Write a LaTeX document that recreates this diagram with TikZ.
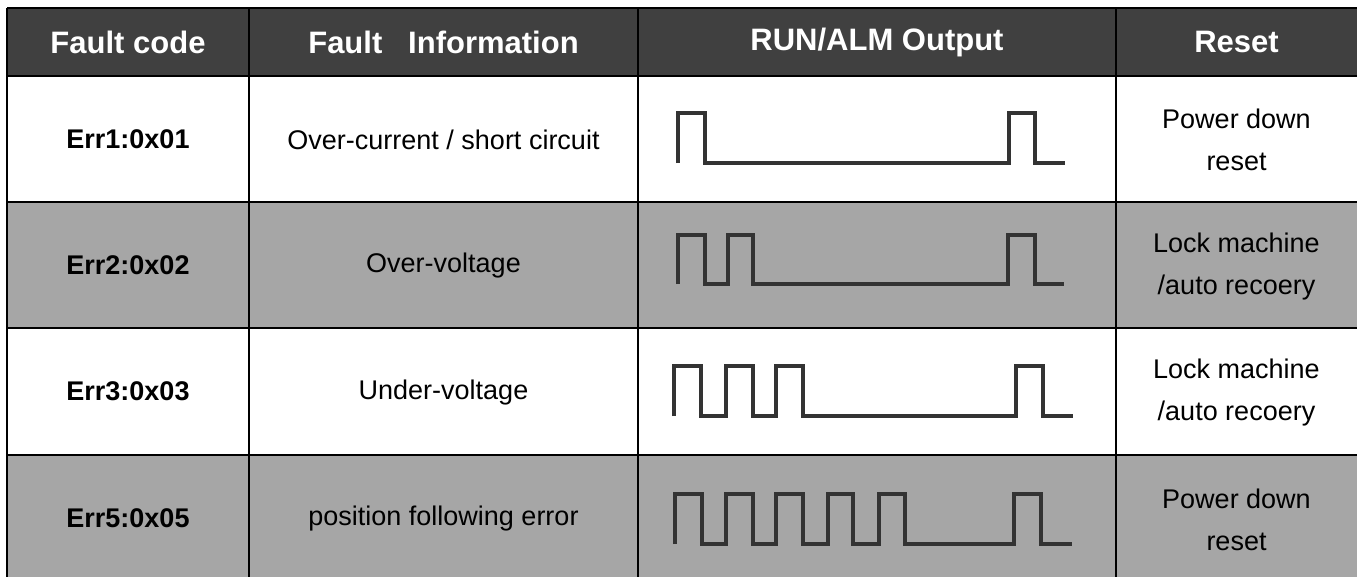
\documentclass[tikz,border=0pt]{standalone}
\usepackage{fontspec}
\setmainfont{Liberation Sans}
\usepackage{tikz}
\definecolor{headgray}{HTML}{404040}
\definecolor{rowgray}{HTML}{A6A6A6}
\definecolor{wavegray}{HTML}{333333}
\tikzset{
  headtext/.style={text=white, font=\fontsize{31}{37}\selectfont\bfseries},
  codetext/.style={font=\fontsize{27}{42}\selectfont\bfseries},
  celltext/.style={font=\fontsize{27}{42}\selectfont, align=center},
  grid/.style={line width=1.3pt, black},
  wave/.style={line width=3.4pt, wavegray}
}

\begin{document}
\begin{tikzpicture}[x=1pt, y=-1pt]
\useasboundingbox (0,0) rectangle (1357,576);
\clip (0,0) rectangle (1357,576);
\fill[white] (0,0) rectangle (1357,576);

% header and grey rows
\fill[headgray] (7,8) rectangle (1360,76);
\fill[rowgray] (7,202) rectangle (1360,328);
\fill[rowgray] (7,455) rectangle (1360,590);

% grid
\foreach \y in {8,76,202,328,455}
  \draw[grid] (7,\y) -- (1360,\y);
\foreach \x in {7,249,638,1116}
  \draw[grid] (\x,8) -- (\x,590);

% header
\node[headtext] (hcode)  at (128,42)    {Fault code};
\node[headtext] (hinfo)  at (443.5,42)  {Fault\ \ \ Information};
\node[headtext] (hout)   at (877,42)    {RUN/ALM Output};
\node[headtext] (hreset) at (1236.5,42) {Reset};

% row 1
\node[codetext] (code1)  at (128,139)    {Err1:0x01};
\node[celltext] (info1)  at (443.5,140)  {Over-current / short circuit};
\node[celltext] (reset1) at (1236.5,140) {Power down\\reset};
\draw[wave] (678,163) |- (705,113) |- (1009,163) |- (1035,113) |- (1065,163);

% row 2
\node[codetext] (code2)  at (128,265)    {Err2:0x02};
\node[celltext] (info2)  at (443.5,266)  {Over-voltage};
\node[celltext] (reset2) at (1236.5,267) {Lock machine\\/auto recoery};
\draw[wave] (678,284) |- (705,235) |- (728,284) |- (753,235) |- (1008,284)
  |- (1035,235) |- (1064,284);

% row 3
\node[codetext] (code3)  at (128,391.5)    {Err3:0x03};
\node[celltext] (info3)  at (443.5,392.5)  {Under-voltage};
\node[celltext] (reset3) at (1236.5,393)   {Lock machine\\/auto recoery};
\draw[wave] (674,416) |- (701,366) |- (726,416) |- (753,366) |- (776,416)
  |- (803,366) |- (1016,416) |- (1043,366) |- (1073,416);

% row 4
\node[codetext] (code5)  at (128,518)    {Err5:0x05};
\node[celltext] (info5)  at (443.5,519)  {position following error};
\node[celltext] (reset5) at (1236.5,520) {Power down\\reset};
\draw[wave] (675,544) |- (702,494) |- (726,544) |- (753,494) |- (776,544)
  |- (803,494) |- (828,544) |- (853,494) |- (879,544) |- (905,494)
  |- (1014,544) |- (1041,494) |- (1072,544);
\end{tikzpicture}
\end{document}
